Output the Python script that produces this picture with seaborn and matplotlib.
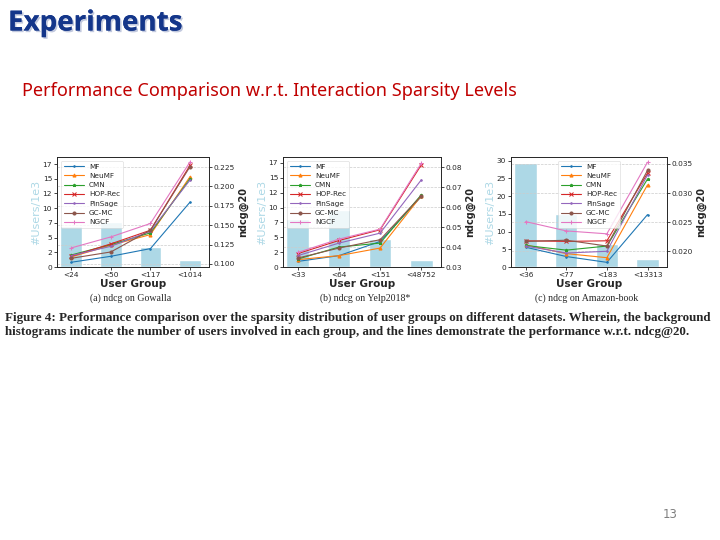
import matplotlib
matplotlib.use("Agg")
import matplotlib.pyplot as plt
import seaborn as sns
import pandas as pd
import matplotlib.patheffects as pe

sns.set_style("ticks")
plt.rcParams['font.family'] = ['DejaVu Sans']

methods = ["MF", "NeuMF", "CMN", "HOP-Rec", "PinSage", "GC-MC", "NGCF"]
colors = ["#1f77b4", "#ff7f0e", "#2ca02c", "#d62728", "#9467bd", "#8c564b", "#e377c2"]
markers = [".", "^", "*", "x", ".", "o", "+"]

# (a) Gowalla
groups_a = ["<24", "<50", "<117", "<1014"]
users_a = [6.9, 7.7, 3.45, 1.15]
ndcg_a = {
    "MF":      [0.1022, 0.1099, 0.1198, 0.1797],
    "NeuMF":   [0.1091, 0.1241, 0.1379, 0.2125],
    "CMN":     [0.1116, 0.1250, 0.1401, 0.2099],
    "HOP-Rec": [0.1099, 0.1259, 0.1435, 0.2272],
    "PinSage": [0.1108, 0.1228, 0.1422, 0.2082],
    "GC-MC":   [0.1073, 0.1155, 0.1435, 0.2254],
    "NGCF":    [0.1207, 0.1349, 0.1522, 0.2315],
}
# (b) Yelp2018*
groups_b = ["<33", "<64", "<151", "<48752"]
users_b = [8.0, 9.6, 4.7, 1.2]
ndcg_b = {
    "MF":      [0.0328, 0.0357, 0.0428, 0.0653],
    "NeuMF":   [0.0337, 0.0357, 0.0395, 0.0657],
    "CMN":     [0.0340, 0.0400, 0.0420, 0.0662],
    "HOP-Rec": [0.0367, 0.0433, 0.0487, 0.0812],
    "PinSage": [0.0357, 0.0420, 0.0470, 0.0737],
    "GC-MC":   [0.0345, 0.0395, 0.0437, 0.0657],
    "NGCF":    [0.0373, 0.0440, 0.0490, 0.0820],
}
# (c) Amazon-book
groups_c = ["<36", "<77", "<183", "<13313"]
users_c = [29.3, 14.8, 6.5, 2.3]
ndcg_c = {
    "MF":      [0.0207, 0.0191, 0.0181, 0.0263],
    "NeuMF":   [0.0211, 0.0196, 0.0189, 0.0314],
    "CMN":     [0.0210, 0.0202, 0.0209, 0.0324],
    "HOP-Rec": [0.0218, 0.0217, 0.0218, 0.0334],
    "PinSage": [0.0209, 0.0197, 0.0200, 0.0331],
    "GC-MC":   [0.0217, 0.0219, 0.0209, 0.0339],
    "NGCF":    [0.0251, 0.0235, 0.0230, 0.0353],
}

left_ticks_ab = [0, 2.5, 5, 7.5, 10, 12.5, 15, 17.5]
left_labels_ab = ["0", "2", "5", "7", "10", "12", "15", "17"]
left_ticks_c = [0, 5, 10, 15, 20, 25, 30]
right_ticks_a = [0.100, 0.125, 0.150, 0.175, 0.200, 0.225]
right_ticks_b = [0.03, 0.04, 0.05, 0.06, 0.07, 0.08]
right_ticks_c = [0.020, 0.025, 0.030, 0.035]

subcaptions = ["(a) ndcg on Gowalla", "(b) ndcg on Yelp2018*", "(c) ndcg on Amazon-book"]

fig = plt.figure(figsize=(7.2, 5.4), dpi=100)
fig.patch.set_facecolor("white")

W, H = 720.0, 540.0
def rect(l, t, r, b):
    return [l / W, 1 - b / H, (r - l) / W, (b - t) / H]

panels = [
    dict(pos=rect(57, 157, 209, 267), groups=groups_a, users=users_a, ndcg=ndcg_a,
         lt=left_ticks_ab, ll=left_labels_ab, lylim=(0, 18.7),
         rt=right_ticks_a, rfmt="{:.3f}", rylim=(0.0961, 0.2379), legloc="upper left"),
    dict(pos=rect(283, 157, 441, 267), groups=groups_b, users=users_b, ndcg=ndcg_b,
         lt=left_ticks_ab, ll=left_labels_ab, lylim=(0, 18.5),
         rt=right_ticks_b, rfmt="{:.2f}", rylim=(0.030, 0.0852), legloc="upper left"),
    dict(pos=rect(511, 157, 667, 267), groups=groups_c, users=users_c, ndcg=ndcg_c,
         lt=left_ticks_c, ll=[str(v) for v in left_ticks_c], lylim=(0, 31.0),
         rt=right_ticks_c, rfmt="{:.3f}", rylim=(0.0173, 0.0362), legloc="upper center"),
]

for p in panels:
    ax = fig.add_axes(p["pos"])
    bdf = pd.DataFrame({"group": p["groups"], "users": p["users"]})
    sns.barplot(data=bdf, x="group", y="users", ax=ax, color="#add8e6",
                width=0.55, saturation=1)
    ax.set_ylim(*p["lylim"])
    ax.set_yticks(p["lt"], p["ll"])
    ax.set_xlim(-0.36, 3.48)
    ax.set_ylabel("#Users/1e3", color="#add8e6", fontsize=8, labelpad=1)
    ax.set_xlabel("User Group", fontsize=7.5, fontweight="bold", labelpad=1)
    ax.tick_params(axis="both", labelsize=5.3, length=2, pad=1.5, width=0.6)
    for s in ax.spines.values():
        s.set_linewidth(0.6)

    ax2 = ax.twinx()
    rows = []
    for m in methods:
        for g, v in zip(p["groups"], p["ndcg"][m]):
            rows.append({"group": g, "ndcg": v, "method": m})
    ldf = pd.DataFrame(rows)
    for m, c, mk in zip(methods, colors, markers):
        sub = ldf[ldf["method"] == m]
        sns.lineplot(data=sub, x="group", y="ndcg", ax=ax2, color=c, marker=mk,
                     markersize=2.2, markeredgecolor=c, linewidth=0.8, label=m, sort=False)
    ax2.set_ylim(*p["rylim"])
    ax2.set_yticks(p["rt"], [p["rfmt"].format(v) for v in p["rt"]])
    ax2.set_ylabel("ndcg@20", fontsize=7, fontweight="bold", labelpad=2)
    ax2.tick_params(axis="y", labelsize=5.3, length=2, pad=1.5, width=0.6)
    ax2.grid(axis="y", linestyle="--", linewidth=0.5, color="#cccccc")
    ax2.set_xlim(-0.36, 3.48)
    ax2.set_xlabel("")
    for s in ax2.spines.values():
        s.set_linewidth(0.6)
    leg = ax2.legend(loc=p["legloc"], fontsize=5.2, labelspacing=0.45,
                     handlelength=2.8, borderpad=0.4, handletextpad=0.7,
                     frameon=True, fancybox=True, framealpha=0.8)
    leg.get_frame().set_linewidth(0.4)
    ax2.set_xticks(range(len(p["groups"])), p["groups"])
    ax.tick_params(axis="x", labelsize=5.3)

# sub-captions
for x, t in zip([131, 365, 587], subcaptions):
    fig.text(x / W, 1 - 298 / H, t, ha="center", va="center", fontsize=7.1,
             family="Liberation Serif")

cap1 = ("Figure 4: Performance comparison over the sparsity distribution of user groups on "
        "different datasets. Wherein, the background")
cap2 = ("histograms indicate the number of users involved in each group, and the lines "
        "demonstrate the performance w.r.t. ndcg@20.")
fig.text(5 / W, 1 - 318 / H, cap1, ha="left", va="center", fontsize=9.4,
         family="Liberation Serif", fontweight="bold")
fig.text(5 / W, 1 - 332 / H, cap2, ha="left", va="center", fontsize=9.4,
         family="Liberation Serif", fontweight="bold")

# slide title
fig.text(8 / W, 1 - 23 / H, "Experiments", ha="left", va="center", fontsize=20,
         fontweight="bold", color="#14368a", family="Open Sans",
         path_effects=[pe.withSimplePatchShadow(offset=(1.2, -1.2), shadow_rgbFace="#9aa6c8", alpha=0.6), pe.Normal()])
fig.text(22 / W, 1 - 91 / H, "Performance Comparison w.r.t. Interaction Sparsity Levels",
         ha="left", va="center", fontsize=13, color="#c00000", family="Noto Sans")
fig.text(670 / W, 1 - 514 / H, "13", ha="center", va="center", fontsize=8.5,
         color="#7f7f7f")

fig.savefig("out.png", dpi=100, facecolor="white")
